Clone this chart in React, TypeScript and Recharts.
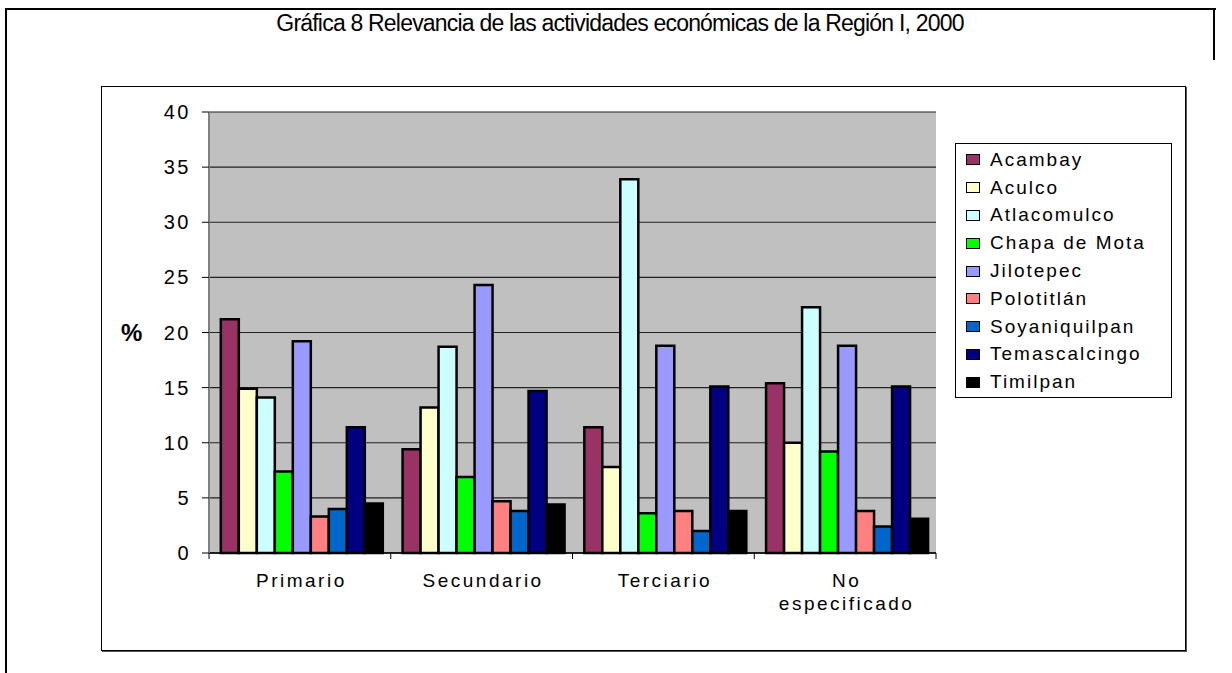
import React from 'react';
import { BarChart, Bar, XAxis, YAxis, CartesianGrid, Legend } from 'recharts';

const categories = ['Primario', 'Secundario', 'Terciario', 'No especificado'];
const yTicks = [0, 5, 10, 15, 20, 25, 30, 35, 40];

const acambay = [21.2, 9.4, 11.4, 15.4];
const aculco = [14.9, 13.2, 7.8, 10.0];
const atlacomulco = [14.1, 18.7, 33.9, 22.3];
const chapaDeMota = [7.4, 6.9, 3.6, 9.2];
const jilotepec = [19.2, 24.3, 18.8, 18.8];
const polotitlan = [3.3, 4.7, 3.8, 3.8];
const soyaniquilpan = [4.0, 3.8, 2.0, 2.4];
const temascalcingo = [11.4, 14.7, 15.1, 15.1];
const timilpan = [4.5, 4.4, 3.8, 3.1];

const series = [
  { key: 'Acambay', values: acambay, color: '#993366' },
  { key: 'Aculco', values: aculco, color: '#FFFFCC' },
  { key: 'Atlacomulco', values: atlacomulco, color: '#CCFFFF' },
  { key: 'Chapa de Mota', values: chapaDeMota, color: '#00FF00' },
  { key: 'Jilotepec', values: jilotepec, color: '#9999FF' },
  { key: 'Polotitlán', values: polotitlan, color: '#FF8080' },
  { key: 'Soyaniquilpan', values: soyaniquilpan, color: '#0066CC' },
  { key: 'Temascalcingo', values: temascalcingo, color: '#000080' },
  { key: 'Timilpan', values: timilpan, color: '#000000' },
];

const data = categories.map((c, i) => {
  const row: Record<string, any> = { name: c };
  series.forEach((s) => {
    row[s.key] = s.values[i];
  });
  return row;
});

const FONT = '"Liberation Sans", Arial, sans-serif';

const CategoryTick = (props: any) => {
  const { x, y, payload, index, visibleTicksCount } = props;
  const half = payload && typeof payload.offset === 'number' ? payload.offset : 0;
  const label = String(payload.value);
  const lines = label.length > 12 ? label.split(' ') : [label];
  return (
    <g>
      <line x1={x - half} x2={x - half} y1={y} y2={y + 6} stroke="#000" strokeWidth={1} />
      {index === visibleTicksCount - 1 && (
        <line x1={x + half} x2={x + half} y1={y} y2={y + 6} stroke="#000" strokeWidth={1} />
      )}
      <text
        x={x}
        y={y + 34}
        textAnchor="middle"
        fill="#000"
        style={{ fontFamily: FONT, fontSize: 19, letterSpacing: 2.5 }}
      >
        {lines.map((l, i) => (
          <tspan key={i} x={x + 1.5} dy={i === 0 ? 0 : 23}>
            {l}
          </tspan>
        ))}
      </text>
    </g>
  );
};

const LegendBox = () => (
  <div
    style={{
      border: '1px solid #000',
      background: '#fff',
      width: 215,
      height: 251,
      boxSizing: 'content-box',
      paddingTop: 2,
      fontFamily: FONT,
    }}
  >
    {series.map((s) => (
      <div
        key={s.key}
        style={{ height: 27.8, display: 'flex', alignItems: 'center', paddingLeft: 10 }}
      >
        <span
          style={{
            display: 'inline-block',
            width: 12,
            height: 9,
            background: s.color,
            border: '1.5px solid #000',
            marginRight: 10,
          }}
        />
        <span style={{ fontSize: 19, letterSpacing: 2, color: '#000', whiteSpace: 'nowrap' }}>
          {s.key}
        </span>
      </div>
    ))}
  </div>
);

export default function App() {
  return (
    <div style={{ position: 'absolute', left: 0, top: 0, width: 1232, height: 673, background: '#fff', overflow: 'hidden' }}>
      {/* outer frame */}
      <div style={{ position: 'absolute', left: 5, top: 8, width: 1209, height: 700, borderTop: '2px solid #000', borderLeft: '2px solid #000' }} />
      <div style={{ position: 'absolute', left: 1213, top: 8, width: 2, height: 52, background: '#000' }} />
      {/* title */}
      <div
        style={{
          position: 'absolute',
          left: 0,
          top: 10,
          width: 1240,
          textAlign: 'center',
          fontFamily: FONT,
          fontSize: 23,
          letterSpacing: -0.8,
          color: '#000',
          whiteSpace: 'nowrap',
        }}
      >
        Gráfica 8 Relevancia de las actividades económicas de la Región I, 2000
      </div>
      {/* chart area box */}
      <div
        style={{
          position: 'absolute',
          left: 101,
          top: 86,
          width: 1083,
          height: 563,
          border: '1px solid #000',
          boxShadow: '1px 1px 0 #555',
        }}
      />
      <div style={{ position: 'absolute', left: 0, top: 0 }}>
        <BarChart
          width={1232}
          height={673}
          data={data}
          margin={{ top: 112, right: 296, bottom: 90, left: 100 }}
          barGap={0}
          barCategoryGap="6.5%"
        >
          <CartesianGrid
            yAxisId="left"
            vertical={false}
            horizontal={true}
            fill="#C0C0C0"
            stroke="#222"
            strokeWidth={1.2}
          />
          <XAxis
            dataKey="name"
            height={30}
            tickLine={false}
            tickSize={0}
            tickMargin={0}
            axisLine={{ stroke: '#000', strokeWidth: 1.5 }}
            tick={<CategoryTick />}
            interval={0}
          />
          <YAxis
            yAxisId="left"
            width={109}
            domain={[0, 40]}
            ticks={yTicks}
            interval={0}
            tickSize={7}
            tickMargin={11}
            axisLine={{ stroke: '#808080', strokeWidth: 2 }}
            tickLine={{ stroke: '#000' }}
            tick={{ fill: '#000', fontSize: 20, fontFamily: FONT, letterSpacing: 2.5 }}
            label={{
              value: '%',
              position: 'insideLeft',
              offset: 21,
              style: { fontFamily: FONT, fontSize: 24, fontWeight: 'bold', fill: '#000' },
            }}
          />
          <YAxis
            yAxisId="right"
            orientation="right"
            width={0}
            domain={[0, 40]}
            tick={false}
            tickLine={false}
            axisLine={{ stroke: '#808080', strokeWidth: 2 }}
          />
          <Legend
            layout="vertical"
            align="center"
            verticalAlign="middle"
            content={<LegendBox />}
            wrapperStyle={{ left: 955, top: 143, width: 217, height: 255 }}
          />
          {series.map((s) => (
            <Bar
              key={s.key}
              yAxisId="left"
              dataKey={s.key}
              name={s.key}
              fill={s.color}
              stroke="#000"
              strokeWidth={2.5}
              isAnimationActive={false}
            />
          ))}
        </BarChart>
      </div>
    </div>
  );
}
